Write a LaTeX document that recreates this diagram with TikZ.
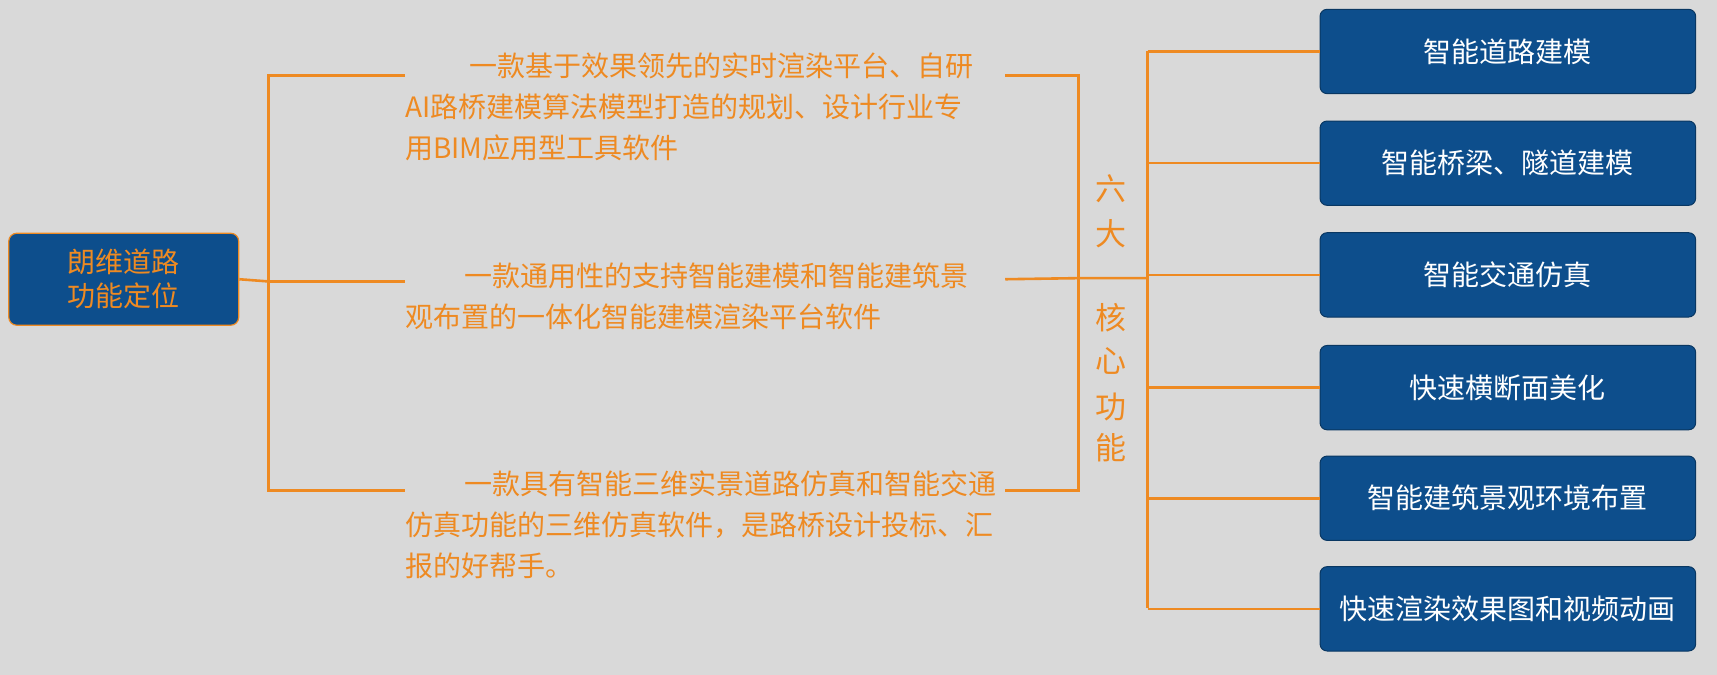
\documentclass[tikz,border=0pt]{standalone}
\usepackage{fontspec}
\setmainfont{Noto Sans CJK SC}
\definecolor{bg}{HTML}{D9D9D9}
\definecolor{org}{HTML}{EE8A22}
\definecolor{blu}{HTML}{0D4E8C}
\begin{document}
\begin{tikzpicture}[x=1.095pt,y=-1.095pt,
  ln/.style={draw=org,line width=2.6pt},
  rbox/.style={draw=blu!70!black,line width=1pt,fill=blu,rounded corners=7pt,minimum width=343*1.095pt,minimum height=77*1.095pt,text=white,font=\fontsize{28}{32}\selectfont,inner sep=0pt},
  para/.style={anchor=north west,inner sep=0pt,text=org,align=left,font=\fontsize{28}{41}\selectfont},
  vt/.style={text=org,inner sep=0pt,font=\fontsize{31}{34}\selectfont}]
\fill[bg] (0,0) rectangle (1568,616.4);
\useasboundingbox (0,0) rectangle (1568,616.4);
\node[draw=org,line width=1.2pt,fill=blu,rounded corners=8pt,minimum width=210*1.095pt,minimum height=84*1.095pt,text=org,align=center,font=\fontsize{28}{34}\selectfont,inner sep=0pt] (L) at (113,255) {朗维道路\\功能定位};
\coordinate (lj) at (245,257);
\coordinate (l1) at (245,69); \coordinate (l3) at (245,448);
\coordinate (e1) at (370,69); \coordinate (e2) at (370,257); \coordinate (e3) at (370,448);
\draw[ln] (L.east) -- (lj);
\draw[ln] (e1) -- (l1) -- (l3) -- (e3);
\draw[ln] (lj) -- (e2);
\node[para] (p1) at (370,48) {\hspace*{2.3em}一款基于效果领先的实时渲染平台、自研\\AI路桥建模算法模型打造的规划、设计行业专\\用BIM应用型工具软件};
\node[para] (p2) at (370,240) {\hspace*{2.1em}一款通用性的支持智能建模和智能建筑景\\观布置的一体化智能建模渲染平台软件};
\node[para] (p3) at (370,430) {\hspace*{2.1em}一款具有智能三维实景道路仿真和智能交通\\仿真功能的三维仿真软件，是路桥设计投标、汇\\报的好帮手。};
\coordinate (r1) at (918,69); \coordinate (r2) at (918,255); \coordinate (r3) at (918,448);
\coordinate (v1) at (985,69); \coordinate (v3) at (985,448); \coordinate (vm) at (985,254);
\coordinate (w) at (1048,254);
\draw[ln] (r1) -- (v1) -- (v3) -- (r3);
\draw[ln] (r2) -- (vm) -- (w);
\node[vt] (c1) at (1015,172) {六};
\node[vt] (c2) at (1015,213) {大};
\node[vt] (c3) at (1015,290) {核};
\node[vt] (c4) at (1015,330) {心};
\node[vt] (c5) at (1015,372) {功};
\node[vt] (c6) at (1015,409) {能};
\coordinate (wt) at (1048,47); \coordinate (wb) at (1048,555);
\draw[ln] (wt) -- (wb);
\foreach \i/\y/\t in {1/47/智能道路建模,2/149/智能桥梁、隧道建模,3/251/智能交通仿真,4/354/快速横断面美化,5/455/智能建筑景观环境布置,6/556/快速渲染效果图和视频动画}{
  \node[rbox] (b\i) at (1377,\y) {\t};
  \coordinate (h\i) at (1048,\y);
  \draw[ln] (h\i) -- (b\i.west);
}
\end{tikzpicture}
\end{document}
